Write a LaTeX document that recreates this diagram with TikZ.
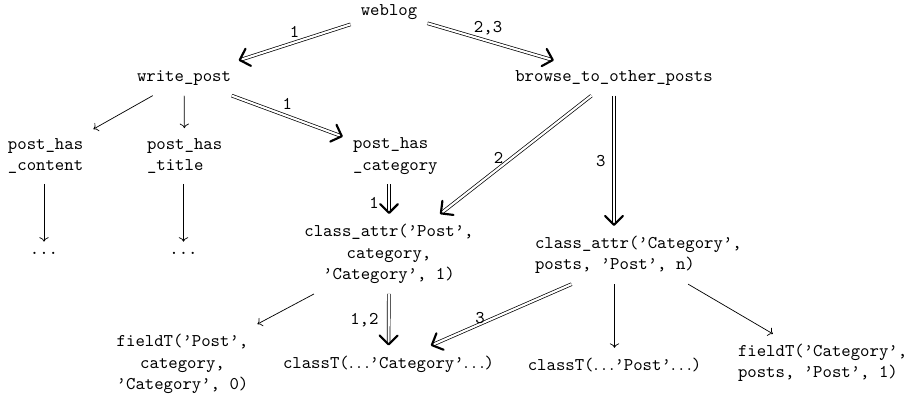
\documentclass[tikz,border=0pt]{standalone}
\usetikzlibrary{arrows.meta}
\begin{document}
\begin{tikzpicture}[x=0.5585pt,y=-0.5585pt,
  box/.style={font=\ttfamily, inner sep=5.5pt},
  lab/.style={font=\ttfamily, inner sep=1.5pt},
  plainarrow/.style={->},
  dbl/.style={double, double distance=1.2pt,
    -{Straight Barb[length=5pt,width=10pt,line width=1.2pt,round]}}]
\useasboundingbox (0,0) rectangle (913,397);

% nodes
\node[box] (weblog) at (389,12) {weblog};
\node[box] (wp) at (184,78) {write\_post};
\node[box] (browse) at (614,78) {browse\_to\_other\_posts};
\node[box, align=left] (pcont) at (45.6,156) {post\_has\\\_content};
\node[box, align=left] (ptitle) at (184.6,156) {post\_has\\\_title};
\node[box, align=left] (pcat) at (395.3,156) {post\_has\\\_category};
\node[box] (d1) at (44,253) {...};
\node[box] (d2) at (183.5,253) {...};
\node[box, align=center] (ca1) at (389,254) {class\_attr(’Post’,\\category,\\’Category’, 1)};
\node[box, align=left] (cac) at (638.4,255) {class\_attr(’Category’,\\posts, ’Post’, n)};
\node[box, align=center] (fp) at (182.5,364) {fieldT(’Post’,\\category,\\’Category’, 0)};
\node[box] (ct1) at (388.5,364) {classT($\ldots$’Category’$\ldots$)};
\node[box] (ct2) at (614.5,365) {classT($\ldots$’Post’$\ldots$)};
\node[box, align=left] (fc) at (822.6,363) {fieldT(’Category’,\\posts, ’Post’, 1)};

% connectors
\draw[dbl] (weblog) -- (wp) node[lab, midway, above=1pt] {1};
\draw[dbl] (weblog) -- (browse) node[lab, pos=0.48, above=1.5pt] {2,3};
\draw[plainarrow] (wp) -- (pcont);
\draw[plainarrow] (wp) -- (ptitle);
\draw[dbl] (wp) -- (pcat) node[lab, midway, above=2pt] {1};
\draw[plainarrow] (d1 |- pcont.south) -- (d1);
\draw[plainarrow] (d2 |- ptitle.south) -- (d2);
\draw[dbl] (ca1 |- pcat.south) -- (ca1) node[lab, pos=0.62, left=4pt] {1};
\draw[dbl] (browse) -- (ca1) node[lab, pos=0.58, anchor=south east, inner sep=0pt] {2};
\draw[dbl] (browse) -- (browse |- cac.north) node[lab, midway, left=3pt] {3};
\draw[plainarrow] (ca1) -- (fp);
\draw[dbl] (ca1) -- (ct1) node[lab, midway, left=4pt] {1,2};
\draw[dbl] (cac) -- (ct1) node[lab, pos=0.65, anchor=south, inner sep=0pt] {3};
\draw[plainarrow] (ct2 |- cac.south) -- (ct2);
\draw[plainarrow] (cac) -- (fc);
\end{tikzpicture}
\end{document}
